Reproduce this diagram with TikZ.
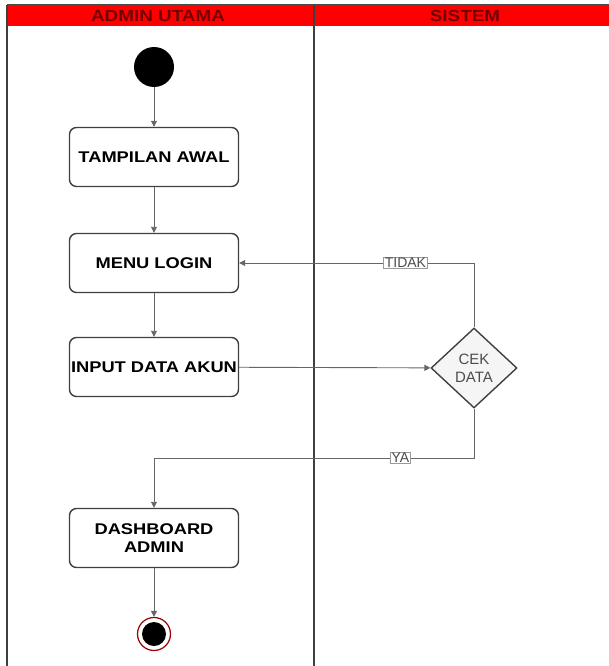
\documentclass[tikz,border=0pt]{standalone}
\usepackage{fontspec}
\setmainfont{Liberation Sans}
\newfontfamily\lebar[FakeStretch=1.18]{Liberation Sans}
\usetikzlibrary{shapes.geometric,arrows.meta}

\tikzset{
  aktivitas/.style={draw=black!75,line width=1.4pt,rounded corners=7pt,fill=white,
    minimum width=169pt,minimum height=59pt,inner sep=0pt,font=\lebar\fontsize{15.5}{18}\selectfont\bfseries},
  keputusan/.style={diamond,draw=black!75,line width=1.4pt,fill=black!4,inner sep=0pt,
    minimum width=86pt,minimum height=80pt,align=center,text=black!70,font=\fontsize{15}{18}\selectfont},
  alur/.style={draw=black!60,line width=0.9pt,-{Triangle[length=6pt,width=6pt]}},
  cabang/.style={draw=black!40,fill=white,inner sep=1pt,text=black!70,font=\fontsize{14}{16}\selectfont}
}

\begin{document}
\begin{tikzpicture}[x=1pt,y=-1pt]
  \useasboundingbox (0,0) rectangle (609,666);

  % swimlane
  \fill[red] (7,5) rectangle (609,26);
  \draw[black!70,line width=1pt] (7,5) -- (609,5) (7,26) -- (609,26);
  \draw[black!75,line width=1.5pt] (7,5) -- (7,666);
  \draw[black!75,line width=2.5pt] (314,5) -- (314,666);
  \node[text=red!45!black,font=\lebar\fontsize{16}{18}\selectfont\bfseries] (lajurAdmin) at (158,16) {ADMIN UTAMA};
  \node[text=red!45!black,font=\lebar\fontsize{16}{18}\selectfont\bfseries] (lajurSistem) at (465,16) {SISTEM};

  % aktivitas
  \node[circle,fill=black,minimum size=40pt,inner sep=0pt] (mulai) at (154,67) {};
  \foreach \nama/\y/\teks in {tampilan/157/TAMPILAN AWAL, menu/263/MENU LOGIN,
      input/367/INPUT DATA AKUN, dashboard/538/{\shortstack{DASHBOARD\\[4pt]ADMIN}}} {
    \node[aktivitas] (\nama) at (154,\y) {\teks};
  }
  \node[keputusan] (cek) at (474,368) {CEK\\DATA};
  \node[circle,draw=red!60!black,line width=1.2pt,fill=white,minimum size=33pt,inner sep=0pt] (selesai) at (154,634) {};
  \node[circle,fill=black,minimum size=24pt,inner sep=0pt] (selesaiIsi) at (selesai) {};

  % alur
  \draw[alur] (mulai) -- (tampilan);
  \draw[alur] (tampilan) -- (menu);
  \draw[alur] (menu) -- (input);
  \draw[alur] (input) -- (cek);
  \draw[alur] (cek.north) |- (menu.east) node[cabang,pos=0.646] {TIDAK};
  \coordinate (belok) at (474,458);
  \draw[alur] (cek.south) -- (belok) -| (dashboard.north) node[cabang,pos=0.115] {YA};
  \draw[alur] (dashboard) -- (selesai);
\end{tikzpicture}
\end{document}
